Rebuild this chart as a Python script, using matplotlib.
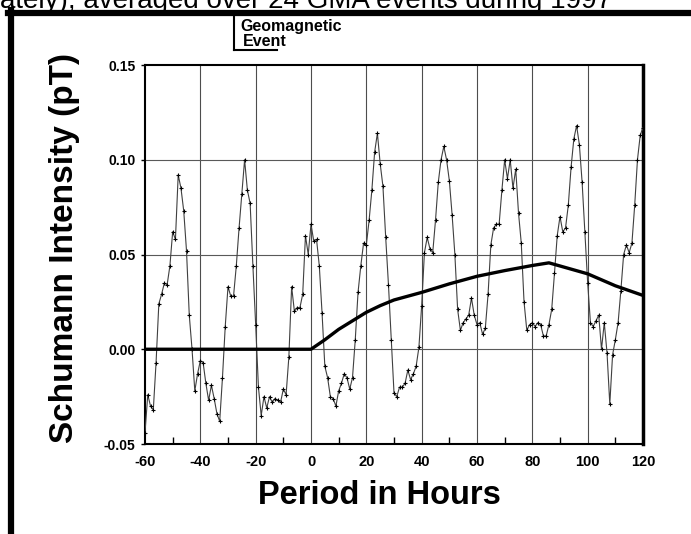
import matplotlib
matplotlib.use("Agg")
import matplotlib.pyplot as plt
from matplotlib.lines import Line2D

# hourly averaged Schumann intensity, -60 .. 120 h around the event
hours = list(range(-60, 121))
intensity = [
    -0.044, -0.024, -0.030, -0.032, -0.007, 0.024, 0.029, 0.035, 0.034, 0.044,   # -60..-51
    0.062, 0.058, 0.092, 0.085, 0.073, 0.052, 0.018, 0.000, -0.022, -0.013,      # -50..-41
    -0.006, -0.007, -0.018, -0.027, -0.019, -0.026, -0.034, -0.038, -0.015, 0.012,  # -40..-31
    0.033, 0.028, 0.028, 0.044, 0.064, 0.082, 0.100, 0.084, 0.077, 0.044,        # -30..-21
    0.013, -0.020, -0.035, -0.025, -0.031, -0.025, -0.028, -0.026, -0.027, -0.028,  # -20..-11
    -0.021, -0.024, -0.004, 0.033, 0.020, 0.022, 0.022, 0.029, 0.060, 0.050,     # -10..-1
    0.066, 0.057, 0.058, 0.044, 0.019, -0.009, -0.015, -0.025, -0.026, -0.030,   # 0..9
    -0.022, -0.018, -0.013, -0.015, -0.021, -0.015, 0.005, 0.030, 0.044, 0.056,  # 10..19
    0.055, 0.068, 0.084, 0.104, 0.114, 0.098, 0.086, 0.059, 0.034, 0.005,        # 20..29
    -0.023, -0.025, -0.020, -0.020, -0.018, -0.011, -0.016, -0.013, -0.009, 0.001,  # 30..39
    0.023, 0.051, 0.059, 0.053, 0.051, 0.068, 0.088, 0.100, 0.107, 0.100,        # 40..49
    0.089, 0.071, 0.050, 0.021, 0.010, 0.014, 0.016, 0.018, 0.027, 0.018,        # 50..59
    0.013, 0.014, 0.008, 0.011, 0.029, 0.055, 0.064, 0.066, 0.066, 0.084,        # 60..69
    0.100, 0.090, 0.100, 0.085, 0.095, 0.072, 0.056, 0.025, 0.010, 0.013,        # 70..79
    0.014, 0.012, 0.014, 0.013, 0.007, 0.007, 0.013, 0.021, 0.040, 0.060,        # 80..89
    0.070, 0.062, 0.064, 0.076, 0.096, 0.111, 0.118, 0.108, 0.088, 0.062,        # 90..99
    0.035, 0.014, 0.012, 0.015, 0.018, 0.000, 0.014, -0.002, -0.029, -0.003,     # 100..109
    0.005, 0.014, 0.031, 0.050, 0.055, 0.051, 0.056, 0.076, 0.100, 0.113,        # 110..119
    0.117,                                                                       # 120
]

# thick smoothed response curve
trend_hours = [-60, 0, 5, 10, 15, 20, 25, 30, 40, 50, 60, 70, 80, 86, 100, 110, 120]
trend_vals = [0.0, 0.0, 0.005, 0.0105, 0.0150, 0.0195, 0.023, 0.026, 0.030, 0.0345,
              0.0385, 0.0415, 0.0442, 0.0456, 0.0398, 0.0335, 0.0284]

xticks = [-60, -40, -20, 0, 20, 40, 60, 80, 100, 120]
yticks = [-0.05, 0.00, 0.05, 0.10, 0.15]

plt.rcParams['font.family'] = ['Liberation Sans', 'DejaVu Sans']

fig = plt.figure(figsize=(6.91, 5.34), dpi=100)
W, H = 691, 534

# axes box in pixels: x 145..643, y 65..444
ax = fig.add_axes([145 / W, 1 - 444 / H, (643 - 145) / W, (444 - 65) / H])

ax.set_xlim(-60, 120)
ax.set_ylim(-0.05, 0.15)

# grid
for x in xticks[1:-1]:
    ax.axvline(x, color='0.3', lw=0.8, zorder=1)
for y in yticks[1:-1]:
    ax.axhline(y, color='0.35', lw=0.8, zorder=1)

ax.plot(hours, intensity, color='0.25', lw=0.8, marker='+', ms=3.5,
        mew=0.8, mec='black', zorder=3)
ax.plot(trend_hours, trend_vals, color='black', lw=2.4, zorder=4,
        solid_capstyle='butt')

ax.set_xticks(xticks)
ax.set_xticks(range(-50, 120, 20), minor=True)
ax.set_yticks(yticks)
ax.set_xticklabels([str(t) for t in xticks], fontsize=10.5, fontweight='bold')
ax.set_yticklabels(['%.2f' % t for t in yticks], fontsize=10, fontweight='bold')
ax.tick_params(axis='x', which='major', direction='in', length=0, pad=8)
ax.tick_params(axis='x', which='minor', direction='in', length=5, width=1)
ax.tick_params(axis='y', which='major', direction='out', length=3, width=1, pad=4)

for side in ['left', 'top', 'bottom']:
    ax.spines[side].set_linewidth(1.5)
ax.spines['right'].set_linewidth(2.5)

# axis titles
fig.text(65 / W, 1 - 248 / H, 'Schumann Intensity (pT)', rotation=90,
         ha='center', va='center', fontsize=24, fontweight='bold')
fig.text(379 / W, 1 - 496 / H, 'Period in Hours', ha='center', va='center',
         fontsize=23.5, fontweight='bold')

# event marker at the top
fig.add_artist(Line2D([234 / W, 234 / W], [1 - 17 / H, 1 - 50 / H],
                      color='black', lw=1.5))
fig.add_artist(Line2D([234 / W, 277 / W], [1 - 50 / H, 1 - 50 / H],
                      color='black', lw=1.5))
fig.text(240 / W, 1 - 26 / H, 'Geomagnetic', ha='left', va='center',
         fontsize=11.5, fontweight='bold',
         family=['Liberation Sans Narrow', 'Liberation Sans', 'DejaVu Sans'])
fig.text(243 / W, 1 - 41 / H, 'Event', ha='left', va='center',
         fontsize=11.5, fontweight='bold',
         family=['Liberation Sans Narrow', 'Liberation Sans', 'DejaVu Sans'])

# cut-off caption line above the frame
fig.text(0, 1 - 8 / H, 'ately), averaged over 24 GMA events during 1997',
         ha='left', va='baseline', fontsize=20)

# thick page frame
fig.add_artist(Line2D([11 / W, 11 / W], [1 - 10 / H, 0], color='black', lw=4.5))
fig.add_artist(Line2D([8 / W, 1], [1 - 13 / H, 1 - 13 / H], color='black', lw=4.5))

fig.savefig('out.png', dpi=100)
